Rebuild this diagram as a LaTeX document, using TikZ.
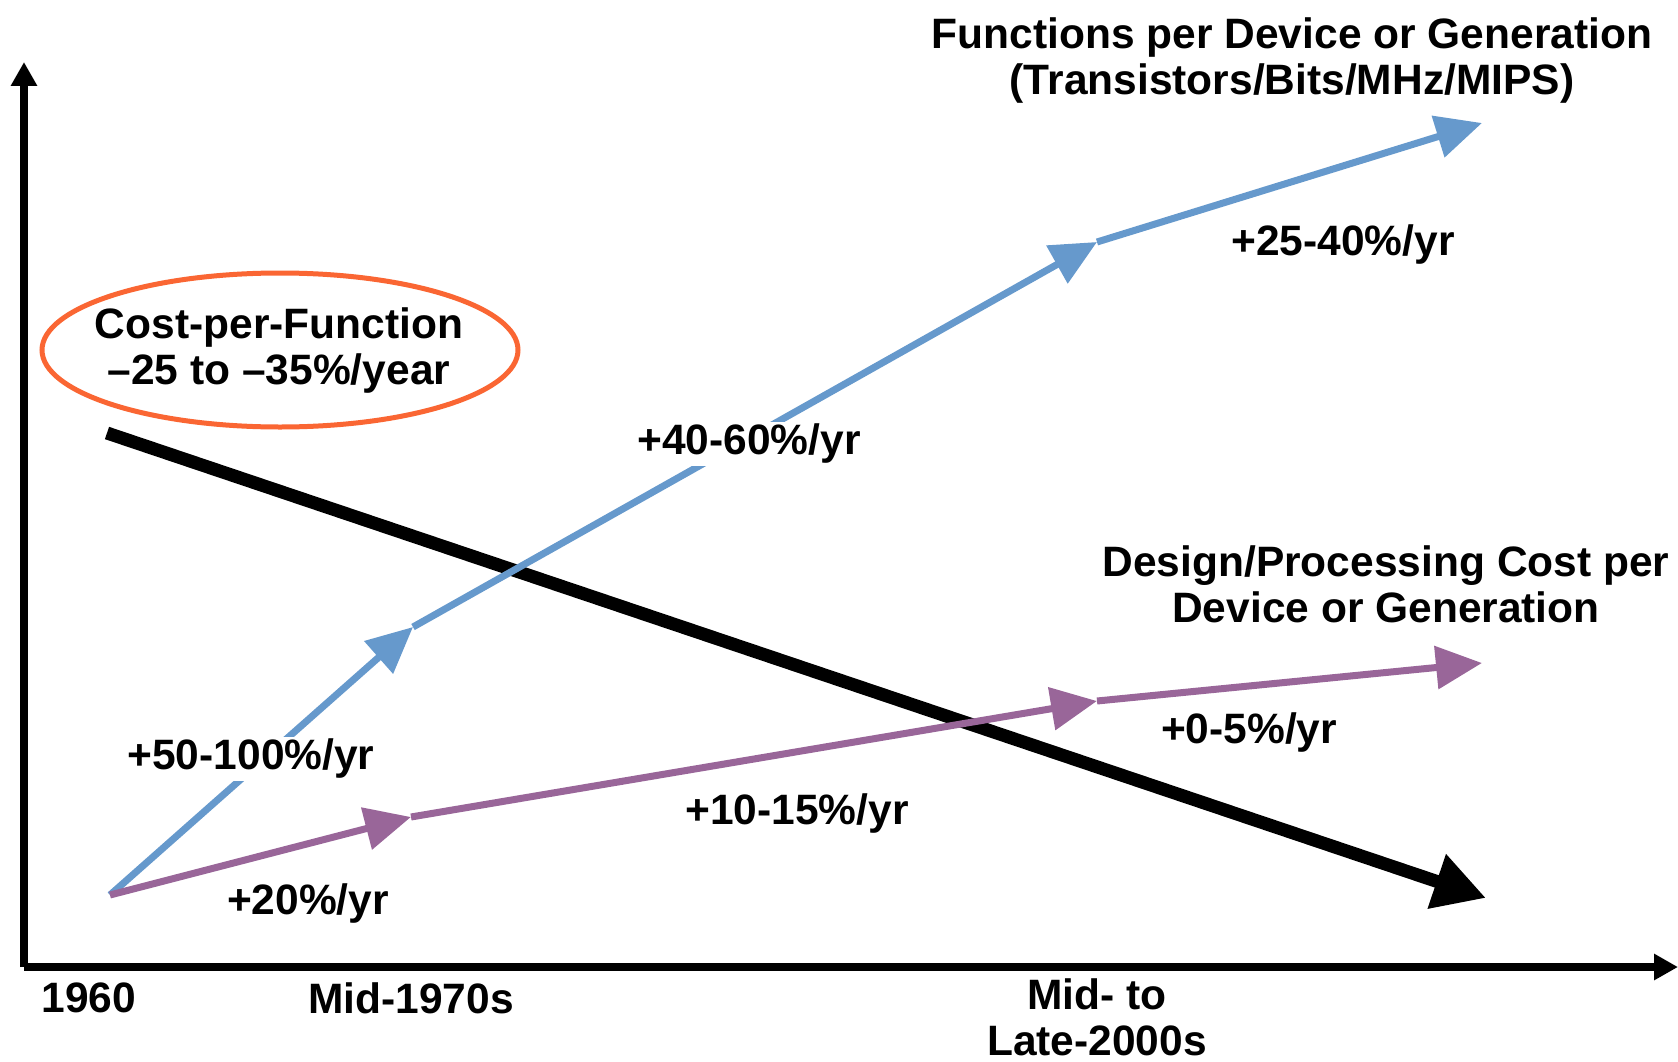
\documentclass[tikz,border=0pt]{standalone}
\usepackage{fontspec}
\setmainfont{Liberation Sans}
\usepackage{tikz}
\usetikzlibrary{arrows.meta,positioning,shapes,calc}
\definecolor{funcblue}{RGB}{102,153,204}
\definecolor{costpurple}{RGB}{153,102,153}
\definecolor{ringorange}{RGB}{250,102,51}

\begin{document}
\begin{tikzpicture}[
  x=1pt,y=-1pt,
  lbl/.style={font=\fontsize{42.5}{46}\selectfont\bfseries,align=center,inner sep=2pt},
  rate/.style={lbl,fill=white},
  axis/.style={line width=8pt,-{Triangle[length=24pt,width=25pt]}},
  fline/.style={draw=funcblue,line width=7pt,-{Triangle[length=46pt,width=42pt,fill=funcblue]}},
  dline/.style={draw=costpurple,line width=7pt,-{Triangle[length=46pt,width=42pt,fill=costpurple]}},
  cline/.style={line width=13pt,-{Triangle[length=52pt,width=54pt]}}
]
\useasboundingbox (0,0) rectangle (1678,1062);

% axes
\coordinate (orig) at (24,967);
\coordinate (ytop) at (24,62);
\coordinate (xend) at (1678,967);
\draw[axis] (orig) -- (ytop);
\draw[axis] (orig) -- (xend);

% curve points
\coordinate (start) at (110,895);
\coordinate (f1) at (413,627);
\coordinate (f2) at (1097,242);
\coordinate (f3) at (1482,123);
\coordinate (d1) at (411,817);
\coordinate (d2) at (1097,701);
\coordinate (d3) at (1482,663);
\coordinate (c0) at (107,433);
\coordinate (c1) at (1486,898);

\draw[cline] (c0) -- (c1);
\draw[fline] (start) -- (f1);
\draw[fline] (f1) -- (f2);
\draw[fline] (f2) -- (f3);
\draw[dline] (start) -- (d1);
\draw[dline] (d1) -- (d2);
\draw[dline] (d2) -- (d3);

% rate labels
\node[rate] (r50) at (251,759) {+50-100\%/yr};
\node[rate] (r40) at (749,444) {+40-60\%/yr};
\node[rate] (r25) at (1343,245) {+25-40\%/yr};
\node[rate] (r20) at (308,904) {+20\%/yr};
\node[rate] (r10) at (797,814) {+10-15\%/yr};
\node[rate] (r0) at (1249,733) {+0-5\%/yr};

% titles
\node[lbl] (ftitle) at (1292,61) {Functions per Device or Generation\\(Transistors/Bits/MHz/MIPS)};
\node[lbl] (dtitle) at (1386,584) {Design/Processing Cost per\\Device or Generation};
\node[lbl] (cpf) at (279,351) {Cost-per-Function\\–25 to –35\%/year};
\draw[ringorange,line width=5pt] (280,350) ellipse [x radius=238,y radius=77];

% years
\node[lbl] (y60) at (89,998) {1960};
\node[lbl] (y75) at (411,998) {Mid-1970s};
\node[lbl] (y05) at (1097,1017) {Mid- to\\Late-2000s};
\end{tikzpicture}
\end{document}
